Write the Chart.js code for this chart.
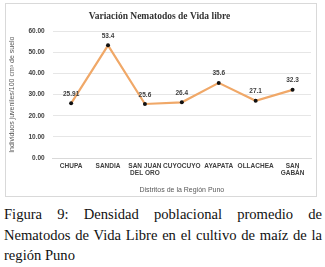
<!DOCTYPE html>
<html><head><meta charset="utf-8">
<script src="https://cdn.jsdelivr.net/npm/chart.js@4/dist/chart.umd.min.js"></script>
<style>
html,body{margin:0;padding:0;background:#fff;width:325px;height:267px;overflow:hidden;}
#box{position:absolute;left:5px;top:3px;width:312px;height:194px;border:1px solid #d9d9d9;box-sizing:border-box;}
#box canvas{display:block;}
#cap{position:absolute;left:4px;top:204px;width:318px;font-family:"Liberation Serif","Times New Roman",serif;font-size:14.6px;line-height:20.5px;color:#111;text-align:justify;}
</style></head><body>
<div id="box"><canvas id="c" width="310" height="192"></canvas></div>
<div id="cap">Figura 9: Densidad poblacional promedio de Nematodos de Vida Libre en el cultivo de maíz de la región Puno</div>
<script>
const categories = ["CHUPA","SANDIA",["SAN JUAN","DEL ORO"],"CUYOCUYO","AYAPATA","OLLACHEA",["SAN","GABÁN"]];
const values = [25.91, 53.4, 25.6, 26.4, 35.6, 27.1, 32.3];
const valueLabels = ["25.91","53.4","25.6","26.4","35.6","27.1","32.3"];
const yTicks = [0,10,20,30,40,50,60];
const chartTitle = "Variación Nematodos de Vida libre";
const xTitle = "Distritos de la Región Puno";
const yTitle = "Individuos juveniles/100 cm³ de suelo";

const labelPlugin = {
  id:'pointLabels',
  afterDatasetsDraw(chart){
    const ctx = chart.ctx;
    const meta = chart.getDatasetMeta(0);
    ctx.save();
    ctx.font = 'bold 6.5px "Liberation Sans", Arial, sans-serif';
    ctx.fillStyle = '#404040';
    ctx.textAlign = 'center';
    ctx.textBaseline = 'bottom';
    meta.data.forEach((p,i)=>{ ctx.fillText(valueLabels[i], p.x, p.y-6); });
    ctx.restore();
  }
};

new Chart(document.getElementById('c'), {
  type:'line',
  data:{labels:categories, datasets:[{data:values, borderColor:'#f0a868', borderWidth:2.2, pointRadius:2, pointBackgroundColor:'#111', pointBorderColor:'#111', pointBorderWidth:0, tension:0}]},
  options:{
    responsive:false, animation:false, devicePixelRatio:1,
    layout:{padding:{left:2,right:5,top:4,bottom:2}},
    plugins:{
      legend:{display:false}, tooltip:{enabled:false},
      title:{display:true, text:chartTitle, color:'#333', font:{family:'"Liberation Serif", serif', size:9.5, weight:'bold'}, padding:{top:3,bottom:9}}
    },
    scales:{
      x:{offset:true, grid:{display:false, drawTicks:false}, border:{display:true,color:'#d9d9d9'},
         ticks:{color:'#404040', font:{family:'"Liberation Sans", Arial, sans-serif', size:6.5, weight:'bold'}, maxRotation:0, autoSkip:false, padding:4},
         title:{display:true, text:xTitle, color:'#595959', font:{family:'"Liberation Sans", Arial, sans-serif', size:7}, padding:{top:4,bottom:0}}},
      y:{min:0, max:60, afterBuildTicks(s){ s.ticks = yTicks.map(v=>({value:v})); },
         grid:{color:'#e6e6e6', drawTicks:false}, border:{display:false},
         ticks:{color:'#404040', font:{family:'"Liberation Sans", Arial, sans-serif', size:6.5, weight:'bold'}, padding:8, callback:v=>Number(v).toFixed(2)},
         title:{display:true, text:yTitle, color:'#595959', font:{family:'"Liberation Sans", Arial, sans-serif', size:7}, padding:{top:0,bottom:4}}}
    }
  },
  plugins:[labelPlugin]
});
</script>
</body></html>
